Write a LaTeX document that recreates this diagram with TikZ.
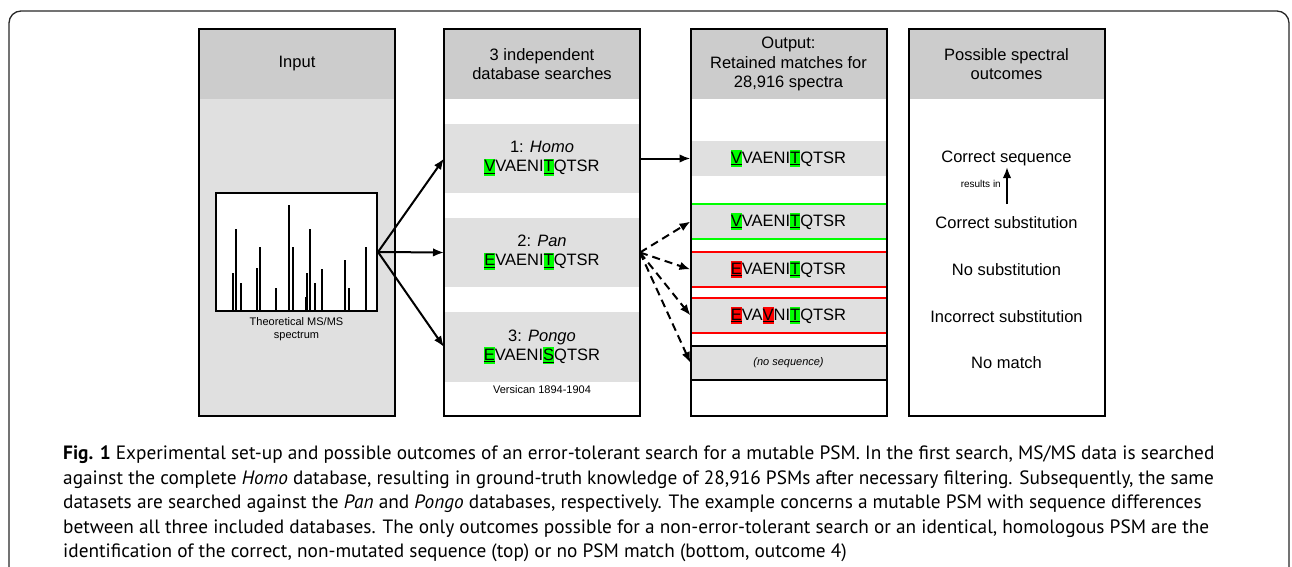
\documentclass[tikz,border=0pt]{standalone}
\usepackage{fontspec}
\setmainfont{Liberation Sans}
\newfontfamily\capfont{PT Sans}
\usetikzlibrary{positioning, arrows.meta}
\definecolor{headgray}{RGB}{204,204,204}
\definecolor{bandgray}{RGB}{224,224,224}
\definecolor{hlgreen}{RGB}{0,255,0}
\definecolor{hlred}{RGB}{255,0,0}
\definecolor{framegray}{RGB}{40,40,40}
\newcommand{\hlg}[1]{{\setlength{\fboxsep}{0pt}\colorbox{hlgreen}{\rule[-4pt]{0pt}{17pt}\underline{#1}}}}
\newcommand{\hlr}[1]{{\setlength{\fboxsep}{0pt}\colorbox{hlred}{\rule[-4pt]{0pt}{17pt}\underline{#1}}}}
\tikzstyle{col} = [rectangle, minimum width=196pt, minimum height=387pt, inner sep=0pt, outer sep=0pt]
\tikzstyle{head} = [rectangle, fill=headgray, minimum width=196pt, minimum height=70pt, inner sep=0pt, outer sep=0pt, align=center, font=\fontsize{16.5}{19.5}\selectfont]
\tikzstyle{band} = [rectangle, fill=bandgray, minimum width=196pt, inner sep=0pt, outer sep=0pt, align=center, font=\fontsize{16.5}{19}\selectfont]
\tikzstyle{outtxt} = [inner sep=0pt, font=\fontsize{16.5}{19}\selectfont]
\tikzstyle{small} = [inner sep=0pt, align=center, font=\fontsize{11}{13}\selectfont]
\tikzstyle{frame} = [draw=black, line width=2pt]
\tikzstyle{gline} = [draw=hlgreen, line width=1.6pt]
\tikzstyle{rline} = [draw=hlred, line width=1.6pt]
\tikzstyle{kline} = [draw=black, line width=1.6pt]
\tikzstyle{peak} = [line width=2pt]
\tikzstyle{arrow} = [-{Latex[length=11pt,width=8.5pt]}, line width=2pt]
\tikzstyle{darrow} = [arrow, dash pattern=on 8pt off 5pt]
\begin{document}
\begin{tikzpicture}[x=1pt, y=-1pt]
	\path[fill=white, use as bounding box] (0,0) rectangle (1292,567);
	\draw[line width=1.3pt, framegray, rounded corners=12pt] (9,567) -- (9,11) -- (1289,11) -- (1289,567);
	% input column
	\node (incol) [col, fill=bandgray] at (297,222.5) {};
	\node (inhead) [head, below=0pt of incol.north] {Input};
	\node (spec) [rectangle, fill=white, draw, line width=2pt, minimum width=161pt, minimum height=118pt] at (296.5,252) {};
	\foreach \px/\py in {232.7/273, 236.3/229, 241.3/283, 257/268, 260.3/247, 276.3/288, 288.7/205, 292.7/247, 305.7/297, 306.7/273, 310/229, 315/283, 322.3/269, 345/260, 349.3/288, 366.3/247}
		\draw[peak] (\px,311) -- (\px,\py);
	\node (speclab) [small] at (296.5,329.5) {Theoretical MS/MS\\spectrum};
	% search column
	\node (scol) [col] at (542,222.5) {};
	\node (shead) [head, below=0pt of scol.north] {3 independent\\database searches};
	\node (homo) [band, minimum height=69pt, below=25pt of shead] {1: \textit{Homo}\\\hlg{V}VAENI\hlg{T}QTSR};
	\node (pan) [band, minimum height=69pt, below=25pt of homo] {2: \textit{Pan}\\\hlg{E}VAENI\hlg{T}QTSR};
	\node (pongo) [band, minimum height=70pt, below=25pt of pan] {3: \textit{Pongo}\\\hlg{E}VAENI\hlg{S}QTSR};
	\node (vers) [small] at (542,390) {Versican 1894-1904};
	% output column
	\node (ocol) [col] at (788.5,222.5) {};
	\node (ohead) [head, below=0pt of ocol.north] {Output:\\Retained matches for\\28,916 spectra};
	\node (o1) [band, minimum height=35pt, below=42pt of ohead] {\hlg{V}VAENI\hlg{T}QTSR};
	\node (o2) [band, minimum height=35pt, below=28pt of o1] {\hlg{V}VAENI\hlg{T}QTSR};
	\node (o3) [band, minimum height=35pt, below=13pt of o2] {\hlr{E}VAENI\hlg{T}QTSR};
	\node (o4) [band, minimum height=35pt, below=11pt of o3] {\hlr{E}VA\hlr{V}NI\hlg{T}QTSR};
	\node (o5) [band, minimum height=34pt, below=13pt of o4] {\fontsize{11}{13}\selectfont\itshape (no sequence)};
	\draw[gline] (o2.north west) -- (o2.north east);
	\draw[gline] (o2.south west) -- (o2.south east);
	\foreach \o in {o3,o4}{
		\draw[rline] (\o.north west) -- (\o.north east);
		\draw[rline] (\o.south west) -- (\o.south east);
	}
	\draw[kline] (o5.north west) -- (o5.north east);
	\draw[kline] (o5.south west) -- (o5.south east);
	% outcomes column
	\node (pcol) [col] at (1006.5,222.5) {};
	\node (phead) [head, below=0pt of pcol.north] {Possible spectral\\outcomes};
	\node (correct) [outtxt] at (1006.5,158) {Correct sequence};
	\node (csub) [outtxt] at (1006.5,223) {Correct substitution};
	\node (nosub) [outtxt] at (1006.5,270) {No substitution};
	\node (isub) [outtxt] at (1006.5,317) {Incorrect substitution};
	\node (nomatch) [outtxt] at (1006.5,363) {No match};
	\coordinate (rbot) at (1007,204);
	\coordinate (rtop) at (1007,167);
	\draw [arrow] (rbot) -- (rtop);
	\node (resin) [small, anchor=east, font=\fontsize{10}{12}\selectfont] at (1001,184) {results in};
	% connectors
	\draw [arrow] (spec.east) -- (homo.west);
	\draw [arrow] (spec.east) -- (pan.west);
	\draw [arrow] (spec.east) -- (pongo.west);
	\draw [arrow] (homo.east) -- (o1.west);
	\foreach \t in {o2,o3,o4,o5}
		\draw [darrow] (pan.east) -- (\t.west);
	\foreach \c in {incol,scol,ocol,pcol}
		\draw[frame] (\c.north west) rectangle (\c.south east);
	% caption
	\node (caption) [anchor=north west, align=left, inner sep=0pt, font=\capfont\fontsize{19.3}{24.5}\selectfont] at (63,446) {\textbf{Fig. 1} Experimental set-up and possible outcomes of an error-tolerant search for a mutable PSM. In the first search, MS/MS data is searched\\
against the complete \textit{Homo} database, resulting in ground-truth knowledge of 28,916 PSMs after necessary filtering. Subsequently, the same\\
datasets are searched against the \textit{Pan} and \textit{Pongo} databases, respectively. The example concerns a mutable PSM with sequence differences\\
between all three included databases. The only outcomes possible for a non-error-tolerant search or an identical, homologous PSM are the\\
identification of the correct, non-mutated sequence (top) or no PSM match (bottom, outcome 4)};
\end{tikzpicture}
\end{document}
